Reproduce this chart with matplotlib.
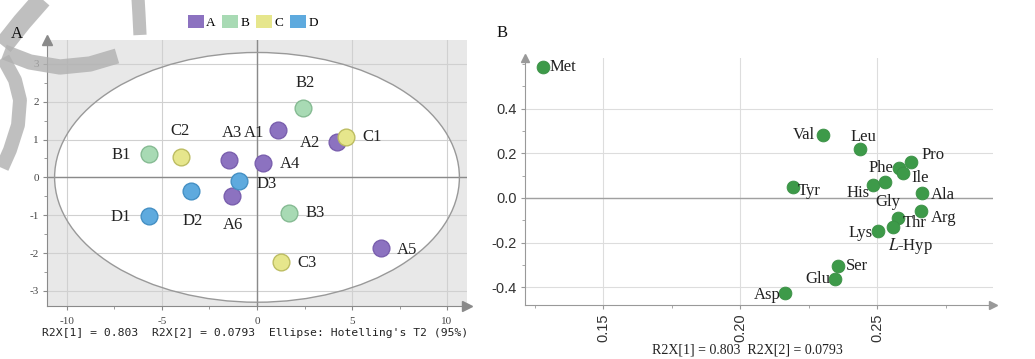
import matplotlib
matplotlib.use("Agg")
import matplotlib.pyplot as plt
from matplotlib.patches import Ellipse, Patch
from matplotlib.lines import Line2D
from matplotlib.ticker import MultipleLocator

plt.rcParams['mathtext.fontset'] = 'stix'

# ---------------- data ----------------
# Panel A: PCA scores
score_names = ['A1', 'A2', 'A3', 'A4', 'A5', 'A6', 'B1', 'B2', 'B3',
               'C1', 'C2', 'C3', 'D1', 'D2', 'D3']
score_t1 = [1.1, 4.2, -1.45, 0.3, 6.5, -1.3, -5.7, 2.42, 1.7,
            4.7, -4.0, 1.25, -5.7, -3.45, -0.95]
score_t2 = [1.25, 0.94, 0.45, 0.39, -1.88, -0.5, 0.61, 1.83, -0.95,
            1.07, 0.54, -2.23, -1.03, -0.35, -0.1]
groups = ['A', 'B', 'C', 'D']
ellipse_axes = [10.65, 3.3]

# Panel B: loadings
load_names = ['Met', 'Val', 'Leu', 'Pro', 'Phe', 'Ile', 'Tyr', 'His', 'Gly',
              'Ala', 'Arg', 'Thr', 'L-Hyp', 'Lys', 'Ser', 'Glu', 'Asp']
load_p1 = [0.128, 0.2303, 0.2438, 0.2624, 0.258, 0.2595, 0.2193, 0.2485, 0.2529,
           0.2664, 0.266, 0.2577, 0.2558, 0.2504, 0.2358, 0.2347, 0.2164]
load_p2 = [0.584, 0.282, 0.219, 0.161, 0.134, 0.112, 0.049, 0.058, 0.072,
           0.022, -0.058, -0.09, -0.13, -0.148, -0.304, -0.362, -0.425]

r2x_text_A = "R2X[1] = 0.803  R2X[2] = 0.0793  Ellipse: Hotelling's T2 (95%)"
r2x_text_B = "R2X[1] = 0.803  R2X[2] = 0.0793"

# ---------------- styles ----------------
face = {'A': '#8c72c0', 'B': '#a8dab4', 'C': '#e6e68c', 'D': '#5eaade'}
edge = {'A': '#7a5fae', 'B': '#86bb93', 'C': '#bdbd62', 'D': '#4590c4'}
# label offsets in pixels (dx, dy up positive)
offA = {'A1': (-24, -3), 'A2': (-27, -1), 'A3': (3, 27), 'A4': (27, -1),
        'A5': (27, -2), 'A6': (1, -29), 'B1': (-27, -1), 'B2': (2, 25),
        'B3': (26, 0), 'C1': (26, 0), 'C2': (-1, 26), 'C3': (26, -1),
        'D1': (-28, -1), 'D2': (1, -30), 'D3': (28, -3)}
offB = {'Met': (20, 0), 'Val': (-19, 0), 'Leu': (3, 12), 'Pro': (22, 7),
        'Phe': (-18, 0), 'Ile': (17, -5), 'Tyr': (16, -4), 'His': (-15, -8),
        'Gly': (3, -20), 'Ala': (21, -2), 'Arg': (23, -7), 'Thr': (16, -5),
        'L-Hyp': (17, -19), 'Lys': (-18, -2), 'Ser': (19, 0), 'Glu': (-17, 0),
        'Asp': (-18, -2)}

W, H = 1035, 359
fig = plt.figure(figsize=(W / 100, H / 100), dpi=100)
fig.patch.set_facecolor('white')

def fr(l, t, r, b):
    return [l / W, 1 - b / H, (r - l) / W, (b - t) / H]

serif = 'Liberation Serif'

# ================= Panel A =================
axA = fig.add_axes(fr(47, 40, 467, 306))
axA.set_facecolor('#e8e8e8')
axA.set_xlim(-11.05, 11.05)
axA.set_ylim(-3.4, 3.63)
ell = Ellipse((0, 0), 2 * ellipse_axes[0], 2 * ellipse_axes[1],
              facecolor='white', edgecolor='none', zorder=0.2)
axA.add_patch(ell)
ell2 = Ellipse((0, 0), 2 * ellipse_axes[0], 2 * ellipse_axes[1],
               facecolor='none', edgecolor='#999999', lw=1.0, zorder=1.5)
axA.add_patch(ell2)
axA.xaxis.set_major_locator(MultipleLocator(5))
axA.xaxis.set_minor_locator(MultipleLocator(2.5))
axA.yaxis.set_major_locator(MultipleLocator(1))
axA.yaxis.set_minor_locator(MultipleLocator(0.5))
axA.set_axisbelow(True)
axA.grid(True, which='major', color='#d0d0d0', lw=0.8)
axA.axhline(0, color='#8a8a8a', lw=1.0, zorder=0.6)
axA.axvline(0, color='#8a8a8a', lw=1.0, zorder=0.6)
for s in ['top', 'right']:
    axA.spines[s].set_visible(False)
for s in ['left', 'bottom']:
    axA.spines[s].set_color('#8a8a8a')
axA.tick_params(which='both', color='#8a8a8a', direction='out',
                labelsize=8, labelcolor='#444444')
axA.tick_params(which='major', length=3, pad=3)
axA.tick_params(which='minor', length=2)
axA.tick_params(axis='x', pad=5)
axA.set_xticks([-10, -5, 0, 5, 10])
axA.set_xticklabels(['-10', '-5', '0', '5', '10'], family=serif)
axA.set_yticks([-3, -2, -1, 0, 1, 2, 3])
axA.set_yticklabels(['-3', '-2', '-1', '0', '1', '2', '3'], family=serif)
axA.plot([1], [0], marker='>', ms=7, color='#8a8a8a', transform=axA.transAxes,
         clip_on=False, zorder=5)
axA.plot([0], [1], marker='^', ms=7, color='#8a8a8a', transform=axA.transAxes,
         clip_on=False, zorder=5)

for g in groups:
    xs = [x for n, x in zip(score_names, score_t1) if n[0] == g]
    ys = [y for n, y in zip(score_names, score_t2) if n[0] == g]
    axA.scatter(xs, ys, s=145, facecolor=face[g], edgecolor=edge[g],
                linewidth=1.0, zorder=3)
for n, x, y in zip(score_names, score_t1, score_t2):
    dx, dy = offA[n]
    axA.annotate(n, (x, y), xytext=(dx, dy), textcoords='offset pixels',
                 ha='center', va='center', fontsize=12, family=serif,
                 color='#222222', zorder=4)

handles = [Patch(facecolor=face[g], edgecolor='none') for g in groups]
fig.legend(handles, groups, loc='center', bbox_to_anchor=(253 / W, 1 - 22 / H),
           ncol=4, frameon=False, handlelength=1.2, handleheight=1.2,
           handletextpad=0.2, columnspacing=0.5,
           prop={'family': serif, 'size': 9.5})

fig.text(255 / W, 1 - 333 / H, r2x_text_A, ha='center', va='center',
         family='DejaVu Sans Mono', fontsize=8.2, color='#222222')
fig.text(17 / W, 1 - 34 / H, 'A', ha='center', va='center', family=serif,
         fontsize=12, color='#111111', zorder=20)

# ================= Panel B =================
axB = fig.add_axes(fr(525, 58, 993, 305))
axB.set_facecolor('white')
axB.set_xlim(0.1215, 0.2923)
axB.set_ylim(-0.479, 0.626)
axB.set_xticks([0.15, 0.20, 0.25])
axB.set_xticklabels(['0.15', '0.20', '0.25'], rotation=90,
                    family='Liberation Sans')
axB.set_yticks([-0.4, -0.2, 0.0, 0.2, 0.4])
axB.set_yticklabels(['-0.4', '-0.2', '0.0', '0.2', '0.4'],
                    family='Liberation Sans')
axB.xaxis.set_minor_locator(MultipleLocator(0.025))
axB.yaxis.set_minor_locator(MultipleLocator(0.1))
axB.set_axisbelow(True)
axB.grid(True, which='major', color='#dddddd', lw=0.8)
axB.axhline(0, color='#a0a0a0', lw=1.0, zorder=0.6)
for s in ['top', 'right']:
    axB.spines[s].set_visible(False)
for s in ['left', 'bottom']:
    axB.spines[s].set_color('#999999')
axB.tick_params(which='both', color='#999999', direction='out',
                labelcolor='#333333')
axB.tick_params(which='major', length=3, pad=3, labelsize=10.5)
axB.tick_params(which='minor', length=2)
axB.plot([1], [0], marker='>', ms=6, color='#999999', transform=axB.transAxes,
         clip_on=False, zorder=5)
axB.plot([0], [1], marker='^', ms=6, color='#999999', transform=axB.transAxes,
         clip_on=False, zorder=5)

axB.scatter(load_p1, load_p2, s=85, facecolor='#3d9a49', edgecolor='#3a8f45',
            linewidth=0.6, zorder=3)
for n, x, y in zip(load_names, load_p1, load_p2):
    dx, dy = offB[n]
    txt = r'$\mathit{L}$-Hyp' if n == 'L-Hyp' else n
    axB.annotate(txt, (x, y), xytext=(dx, dy), textcoords='offset pixels',
                 ha='center', va='center', fontsize=12, family=serif,
                 color='#222222', zorder=4)

fig.text(747 / W, 1 - 350 / H, r2x_text_B, ha='center', va='center',
         family=serif, fontsize=10, color='#222222')
fig.text(502 / W, 1 - 33 / H, 'B', ha='center', va='center', family=serif,
         fontsize=12, color='#111111')

# ---------------- watermark strokes (decoration) ----------------
wm_strokes = [
    [(43, -2), (22, 22), (3, 46)],
    [(4, 52), (30, 62), (60, 67), (90, 64), (117, 56)],
    [(3, 58), (15, 80), (20, 100), (18, 125), (10, 150), (2, 168)],
    [(138, -2), (139, 15), (140, 35)],
]
wm_widths = [14, 11, 10, 9.5]
for pts, lw in zip(wm_strokes, wm_widths):
    xs = [p[0] / W for p in pts]
    ys = [1 - p[1] / H for p in pts]
    fig.add_artist(Line2D(xs, ys, transform=fig.transFigure, color='#b0b0b0',
                          alpha=0.8, lw=lw, solid_capstyle='butt',
                          solid_joinstyle='round', zorder=10))

fig.savefig('out.png', dpi=100)
